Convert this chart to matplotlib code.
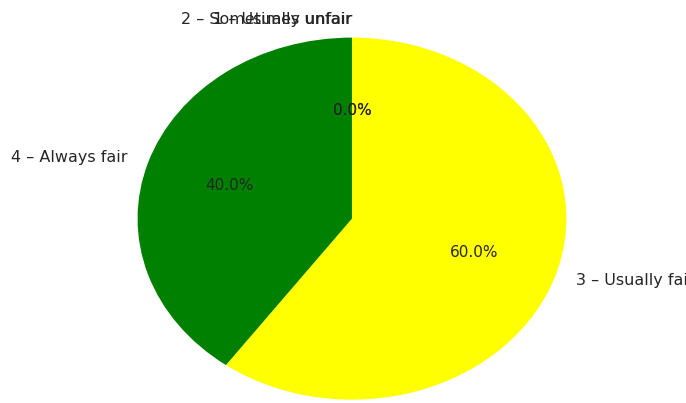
import matplotlib
matplotlib.use("Agg")
import matplotlib.pyplot as plt

# Data
labels = ["1 – Usually unfair", "2 – Sometimes unfair", "3 – Usually fair", "4 – Always fair"]
values = [0, 0, 60, 40]
colors = ["red", "orange", "yellow", "green"]

fig = plt.figure(figsize=(6.86, 4.03), dpi=100)
ax = fig.add_axes([0.1224, -0.104, 0.7813, 1.123])

wedges, texts, autotexts = ax.pie(
    values,
    labels=labels,
    colors=colors,
    autopct="%1.1f%%",
    startangle=90,
    counterclock=False,
    textprops={"color": "#262626", "fontsize": 11.5},
)
for t in autotexts:
    t.set_fontsize(11)

# pie is drawn stretched in the reference
ax.set_aspect("auto")
ax.set_xlim(-1.25, 1.25)
ax.set_ylim(-1.25, 1.25)

fig.savefig("out.png", dpi=100)
